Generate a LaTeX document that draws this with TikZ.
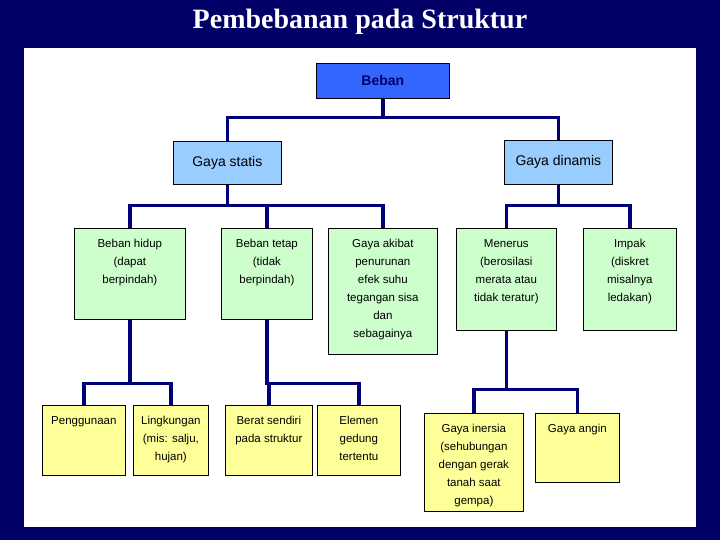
\documentclass[tikz,border=0pt]{standalone}
\usepackage{fontspec}
\setmainfont{Liberation Serif}
\setsansfont{Liberation Sans}
\usepackage{tikz}
\usetikzlibrary{positioning,calc}

\definecolor{navy}{RGB}{0,0,102}
\definecolor{garisbiru}{RGB}{0,0,120}
\definecolor{biru}{RGB}{51,102,255}
\definecolor{birumuda}{RGB}{153,204,255}
\definecolor{hijau}{RGB}{204,255,204}
\definecolor{kuning}{RGB}{255,255,153}

\newcommand{\isi}[3]{\parbox[c][#2pt][t]{#1pt}{\centering\rule{0pt}{19pt}#3}}

\tikzstyle{kotak} = [draw=black, line width=0.7pt, anchor=north west, inner sep=0pt, align=center]
\tikzstyle{kecil} = [kotak, font=\sffamily\fontsize{11.5}{18}\selectfont]
\tikzstyle{besar} = [kotak, font=\sffamily\fontsize{14}{16}\selectfont, fill=birumuda]
\tikzstyle{garis} = [draw=garisbiru, line width=3.5pt]

\begin{document}
\begin{tikzpicture}[x=1pt,y=-1pt]
	% Hintergrund
	\useasboundingbox (0,0) rectangle (720,540);
	\fill[navy] (0,0) rectangle (720,540);
	\fill[white] (24,48) rectangle (696,527);
	\node[text=white, font=\rmfamily\bfseries\fontsize{28}{32}\selectfont] (judul) at (360,22) {Pembebanan pada Struktur};

	% Ebene 0 und 1
	\node[kotak, fill=biru, minimum width=133, minimum height=35, text=navy, font=\sffamily\bfseries\fontsize{14}{16}\selectfont] (beban) at (316,63) {Beban};
	\node[besar, minimum width=108, minimum height=43] (statis) at (173,141) {Gaya statis};
	\node[besar, minimum width=108, minimum height=44] (dinamis) at (504,140) {Gaya dinamis};

	% Ebene 2
	\node[kecil, fill=hijau] (hidup) at (74,228) {\isi{111}{91}{Beban hidup\\(dapat\\berpindah)}};
	\node[kecil, fill=hijau] (tetap) at (221,228) {\isi{91}{91}{Beban tetap\\(tidak\\berpindah)}};
	\node[kecil, fill=hijau] (akibat) at (328,228) {\isi{109}{126}{Gaya akibat\\penurunan\\efek suhu\\tegangan sisa\\dan\\sebagainya}};
	\node[kecil, fill=hijau] (menerus) at (456,228) {\isi{100}{102}{Menerus\\(berosilasi\\merata atau\\tidak teratur)}};
	\node[kecil, fill=hijau] (impak) at (583,228) {\isi{93}{102}{Impak\\(diskret\\misalnya\\ledakan)}};

	% Ebene 3
	\node[kecil, fill=kuning] (guna) at (42,405) {\isi{83}{70}{Penggunaan}};
	\node[kecil, fill=kuning] (lingkungan) at (133,405) {\isi{75}{70}{Lingkungan\\(mis: salju,\\hujan)}};
	\node[kecil, fill=kuning] (berat) at (225,405) {\isi{87}{70}{Berat sendiri\\pada struktur}};
	\node[kecil, fill=kuning] (elemen) at (317,405) {\isi{83}{70}{Elemen\\gedung\\tertentu}};
	\node[kecil, fill=kuning] (inersia) at (424,413) {\isi{99}{98}{Gaya inersia\\(sehubungan\\dengan gerak\\tanah saat\\gempa)}};
	\node[kecil, fill=kuning] (angin) at (535,413) {\isi{84}{69}{Gaya angin}};

	% Verbindungen
	\foreach \k in {statis,dinamis}
		\draw[garis] (beban.south) -- ++(0,19) -| (\k.north);
	\foreach \k in {hidup,tetap,akibat}
		\draw[garis] (statis.south) -- ++(0,21) -| (\k.north);
	\foreach \k in {menerus,impak}
		\draw[garis] (dinamis.south) -- ++(0,21) -| (\k.north);
	\foreach \k in {guna,lingkungan}
		\draw[garis] (hidup.south) -- ++(0,64) -| (\k.north);
	\foreach \k in {berat,elemen}
		\draw[garis] (tetap.south) -- ++(0,64) -| (\k.north);
	\foreach \k in {inersia,angin}
		\draw[garis] (menerus.south) -- ++(0,59) -| (\k.north);
\end{tikzpicture}
\end{document}
